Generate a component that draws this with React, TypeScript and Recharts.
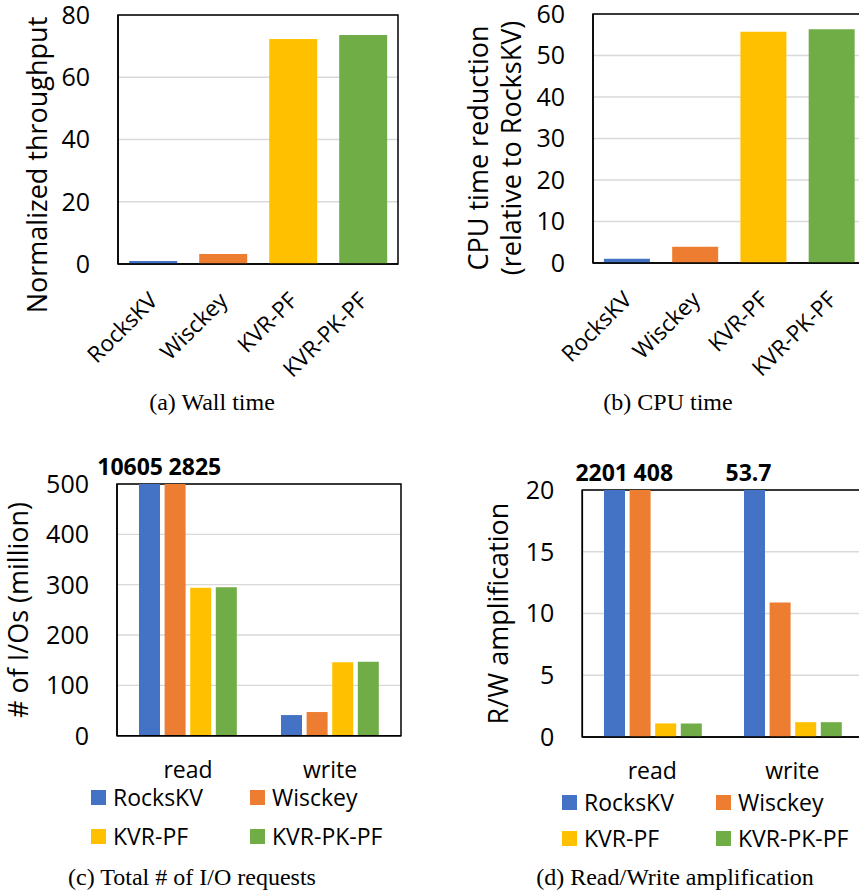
import React from 'react';
import { BarChart, Bar, XAxis, YAxis, CartesianGrid, Cell, LabelList, Legend, ReferenceArea } from 'recharts';

const FONT = '"Open Sans", Lato, sans-serif';
const SERIF = '"Liberation Serif", "DejaVu Serif", serif';

const systems = ['RocksKV', 'Wisckey', 'KVR-PF', 'KVR-PK-PF'];
const systemColors = ['#4472C4', '#ED7D31', '#FFC000', '#70AD47'];

const wallThroughput = [1, 3.2, 72.3, 73.6];
const wallTicks = [0, 20, 40, 60, 80];

const cpuReduction = [1, 3.9, 55.7, 56.3];
const cpuTicks = [0, 10, 20, 30, 40, 50, 60];

const ioOps = ['read', 'write'];
const ioRocksKV = [10605, 41];
const ioWisckey = [2825, 47];
const ioKvrPf = [294, 146];
const ioKvrPkPf = [295, 147];
const ioTicks = [0, 100, 200, 300, 400, 500];

const ampRocksKV = [2201, 53.7];
const ampWisckey = [408, 10.9];
const ampKvrPf = [1.1, 1.2];
const ampKvrPkPf = [1.1, 1.2];
const ampTicks = [0, 5, 10, 15, 20];

const wallData = systems.map((s, i) => ({ name: s, value: wallThroughput[i] }));
const cpuData = systems.map((s, i) => ({ name: s, value: cpuReduction[i] }));

function groupTable(series: number[][], max: number) {
  return ioOps.map((op, i) => {
    const row: any = { name: op };
    systems.forEach((s, j) => {
      row[s] = Math.min(series[j][i], max);
      row[s + '_raw'] = series[j][i];
    });
    return row;
  });
}

const ioMax = ioTicks[ioTicks.length - 1];
const ampMax = ampTicks[ampTicks.length - 1];
const ioData = groupTable([ioRocksKV, ioWisckey, ioKvrPf, ioKvrPkPf], ioMax);
const ampData = groupTable([ampRocksKV, ampWisckey, ampKvrPf, ampKvrPkPf], ampMax);

const RotatedTick = (props: any) => {
  const { x, y, payload } = props;
  const ax = x + 6;
  const ay = y + 38;
  return (
    <text x={ax} y={ay} textAnchor="end" transform={`rotate(-45 ${ax} ${ay})`}
      fontFamily={FONT} fontSize={22.5} fill="#000">{payload.value}</text>
  );
};

const CategoryTick = (props: any) => {
  const { x, y, payload } = props;
  return (
    <text x={x} y={y + 42} textAnchor="middle" fontFamily={FONT} fontSize={23} fill="#000">{payload.value}</text>
  );
};

const YTitle = (props: any) => {
  const { lines, xs, cy, size } = props;
  return (
    <g>
      {lines.map((l: string, i: number) => (
        <text key={i} x={xs[i]} y={cy} textAnchor="middle" transform={`rotate(-90 ${xs[i]} ${cy})`}
          fontFamily={FONT} fontSize={size} fill="#000">{l}</text>
      ))}
    </g>
  );
};

const overflowLabel = (key: string, table: any[], max: number) => (props: any) => {
  const vb = props.viewBox || {};
  const x = props.x ?? vb.x;
  const y = props.y ?? vb.y;
  const width = props.width ?? vb.width;
  const index = props.index;
  const row = table[index];
  if (!row) return null;
  const raw = row[key + '_raw'];
  if (raw <= max) return null;
  let tx = x + width / 2;
  let anchor = 'middle';
  if (key === 'RocksKV') {
    if (row['Wisckey_raw'] > max) {
      tx = x + width + 3;
      anchor = 'end';
    } else {
      tx = x + width / 2 - 6;
    }
  }
  if (key === 'Wisckey') {
    tx = x + 4;
    anchor = 'start';
  }
  return (
    <text x={tx} y={y - 9} textAnchor={anchor} fontFamily={FONT} fontWeight={700}
      fontSize={23} fill="#000">{String(raw)}</text>
  );
};

const legendContent = (cols: number[], rows: number[], w: number) => (props: any) => {
  const payload = [...(props.payload || [])].sort(
    (a: any, b: any) => systems.indexOf(a.value) - systems.indexOf(b.value)
  );
  return (
    <div style={{ position: 'relative', width: w, height: 456 }}>
      {payload.map((p: any, i: number) => (
        <div key={i} style={{ position: 'absolute', left: cols[i % 2], top: rows[Math.floor(i / 2)] - 11, height: 22, display: 'flex', alignItems: 'center', whiteSpace: 'nowrap' }}>
          <span style={{ display: 'inline-block', width: 15, height: 15, background: p.color, marginRight: 7 }} />
          <span style={{ fontFamily: FONT, fontSize: 23, color: '#000', lineHeight: '22px' }}>{p.value}</span>
        </div>
      ))}
    </div>
  );
};

const gridStroke = '#d9d9d9';

const Caption = ({ text, cx, baseline }: { text: string; cx: number; baseline: number }) => (
  <div style={{ position: 'absolute', left: cx - 200, width: 400, top: baseline - 21, textAlign: 'center', fontFamily: SERIF, fontSize: 24, lineHeight: '26px', color: '#000', whiteSpace: 'nowrap' }}>{text}</div>
);

export default function App() {
  return (
    <div style={{ position: 'absolute', left: 0, top: 0, width: 859, height: 896, overflow: 'hidden', background: '#fff' }}>
      {/* (a) */}
      <div style={{ position: 'absolute', left: 0, top: 0 }}>
        <BarChart width={430} height={420} data={wallData} margin={{ top: 15, right: 32, left: 38, bottom: 96 }} barCategoryGap="16%">
          <CartesianGrid vertical={false} stroke={gridStroke} strokeWidth={1.3} />
          <XAxis dataKey="name" height={60} tickLine={false} tickSize={0} tickMargin={0} axisLine={{ stroke: '#000', strokeWidth: 1.5 }} tick={<RotatedTick />} interval={0} />
          <YAxis width={80} domain={[0, 80]} ticks={wallTicks} tickLine={false} tickSize={0} tickMargin={28} axisLine={{ stroke: '#000', strokeWidth: 1.5 }}
            tick={{ fontFamily: FONT, fontSize: 25, fill: '#000' }}
            label={<YTitle lines={['Normalized throughput']} xs={[47]} cy={165} size={27} />} />
          <Bar dataKey="value" isAnimationActive={false}>
            {wallData.map((d, i) => <Cell key={d.name} fill={systemColors[i]} />)}
          </Bar>
          <ReferenceArea y1={0} y2={80} fill="none" fillOpacity={0} stroke="#000" strokeWidth={1.5} ifOverflow="visible" />
        </BarChart>
      </div>
      {/* (b) */}
      <div style={{ position: 'absolute', left: 430, top: 0 }}>
        <BarChart width={450} height={420} data={cpuData} margin={{ top: 14, right: 14, left: 83, bottom: 97 }} barCategoryGap="16%">
          <CartesianGrid vertical={false} stroke={gridStroke} strokeWidth={1.3} />
          <XAxis dataKey="name" height={60} tickLine={false} tickSize={0} tickMargin={0} axisLine={{ stroke: '#000', strokeWidth: 1.5 }} tick={<RotatedTick />} interval={0} />
          <YAxis width={80} domain={[0, 60]} ticks={cpuTicks} tickLine={false} tickSize={0} tickMargin={28} axisLine={{ stroke: '#000', strokeWidth: 1.5 }}
            tick={{ fontFamily: FONT, fontSize: 25, fill: '#000' }}
            label={<YTitle lines={['CPU time reduction', '(relative to RocksKV)']} xs={[58, 91]} cy={148} size={27} />} />
          <Bar dataKey="value" isAnimationActive={false}>
            {cpuData.map((d, i) => <Cell key={d.name} fill={systemColors[i]} />)}
          </Bar>
          <ReferenceArea y1={0} y2={60} fill="none" fillOpacity={0} stroke="#000" strokeWidth={1.5} ifOverflow="visible" />
        </BarChart>
      </div>
      {/* (c) */}
      <div style={{ position: 'absolute', left: 0, top: 440 }}>
        <BarChart width={430} height={456} data={ioData} margin={{ top: 44, right: 29, left: 37, bottom: 120.3 }} barCategoryGap="15.5%" barGap={4.6}>
          <CartesianGrid vertical={false} stroke={gridStroke} strokeWidth={1.3} />
          <XAxis dataKey="name" height={40} tickLine={false} tickSize={0} tickMargin={0} axisLine={{ stroke: '#000', strokeWidth: 1.5 }} tick={<CategoryTick />} interval={0} />
          <YAxis width={80} domain={[0, ioMax]} ticks={ioTicks} tickLine={false} tickSize={0} tickMargin={28} axisLine={{ stroke: '#000', strokeWidth: 1.5 }}
            tick={{ fontFamily: FONT, fontSize: 25, fill: '#000' }}
            label={<YTitle lines={['# of I/Os (million)']} xs={[28]} cy={170} size={27} />} />
          {systems.map((s, i) => (
            <Bar key={s} dataKey={s} name={s} fill={systemColors[i]} isAnimationActive={false}>
              {i < 2 && <LabelList dataKey={s + '_raw'} content={overflowLabel(s, ioData, ioMax)} />}
            </Bar>
          ))}
          <ReferenceArea y1={0} y2={ioMax} fill="none" fillOpacity={0} stroke="#000" strokeWidth={1.5} ifOverflow="visible" />
          <Legend layout="horizontal" verticalAlign="middle" align="center" content={legendContent([91, 250], [357, 396], 430)}
            wrapperStyle={{ position: 'absolute', left: 0, top: 0, width: 430, height: 456 }} />
        </BarChart>
      </div>
      {/* (d) */}
      <div style={{ position: 'absolute', left: 430, top: 440 }}>
        <BarChart width={450} height={456} data={ampData} margin={{ top: 50, right: 17.7, left: 72.3, bottom: 119 }} barCategoryGap="15.5%" barGap={4.6}>
          <CartesianGrid vertical={false} stroke={gridStroke} strokeWidth={1.3} />
          <XAxis dataKey="name" height={40} tickLine={false} tickSize={0} tickMargin={0} axisLine={{ stroke: '#000', strokeWidth: 1.5 }} tick={<CategoryTick />} interval={0} />
          <YAxis width={80} domain={[0, ampMax]} ticks={ampTicks} tickLine={false} tickSize={0} tickMargin={28} axisLine={{ stroke: '#000', strokeWidth: 1.5 }}
            tick={{ fontFamily: FONT, fontSize: 25, fill: '#000' }}
            label={<YTitle lines={['R/W amplification']} xs={[78]} cy={173.5} size={27} />} />
          {systems.map((s, i) => (
            <Bar key={s} dataKey={s} name={s} fill={systemColors[i]} isAnimationActive={false}>
              {i < 2 && <LabelList dataKey={s + '_raw'} content={overflowLabel(s, ampData, ampMax)} />}
            </Bar>
          ))}
          <ReferenceArea y1={0} y2={ampMax} fill="none" fillOpacity={0} stroke="#000" strokeWidth={1.5} ifOverflow="visible" />
          <Legend layout="horizontal" verticalAlign="middle" align="center" content={legendContent([132, 286], [362, 398], 450)}
            wrapperStyle={{ position: 'absolute', left: 0, top: 0, width: 450, height: 456 }} />
        </BarChart>
      </div>
      <Caption text="(a) Wall time" cx={212} baseline={410} />
      <Caption text="(b) CPU time" cx={668} baseline={410} />
      <Caption text="(c) Total # of I/O requests" cx={192} baseline={885} />
      <Caption text="(d) Read/Write amplification" cx={675} baseline={885} />
    </div>
  );
}
